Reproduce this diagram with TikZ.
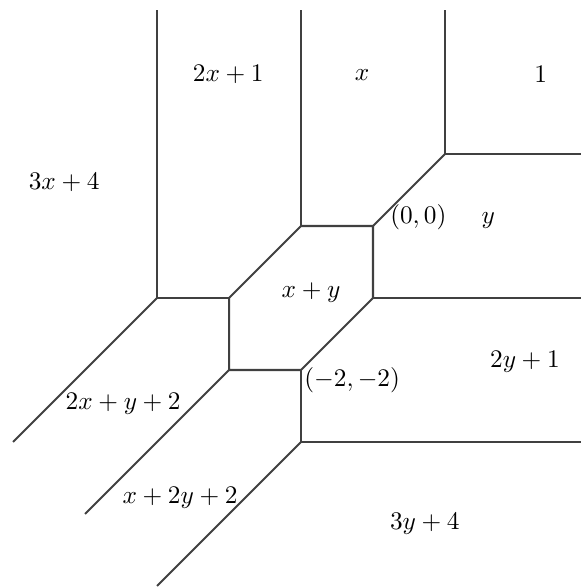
\documentclass[tikz,border=0pt]{standalone}
\usepackage{amsmath,amssymb}
\usepackage{tikz}

\begin{document}
\begin{tikzpicture}[edge/.style={black!75,line width=0.8pt}]
  \useasboundingbox (-5.181,-5.028) rectangle (2.889,3.139);

  % Vertices of the curve
  \coordinate (v00) at (0,0);
  \coordinate (v11) at (1,1);
  \coordinate (vm10) at (-1,0);
  \coordinate (v0m1) at (0,-1);
  \coordinate (vm2m1) at (-2,-1);
  \coordinate (vm2m2) at (-2,-2);
  \coordinate (vm1m2) at (-1,-2);
  \coordinate (vm3m1) at (-3,-1);
  \coordinate (vm1m3) at (-1,-3);

  % Ends of the unbounded rays
  \coordinate (t1) at (-3,3);
  \coordinate (t2) at (-1,3);
  \coordinate (t3) at (1,3);
  \coordinate (r1) at (2.889,1);
  \coordinate (r2) at (2.889,-1);
  \coordinate (r3) at (2.889,-3);
  \coordinate (d1) at (-5,-3);
  \coordinate (d2) at (-4,-4);
  \coordinate (d3) at (-3,-5);

  % Hexagon in the middle
  \draw[edge] (vm10) -- (v00) -- (v0m1) -- (vm1m2) -- (vm2m2)
    -- (vm2m1) -- cycle;

  % Bounded edges
  \draw[edge] (v00) -- (v11);
  \draw[edge] (vm2m1) -- (vm3m1);
  \draw[edge] (vm1m2) -- (vm1m3);

  % Rays going up
  \draw[edge] (vm3m1) -- (t1);
  \draw[edge] (vm10) -- (t2);
  \draw[edge] (v11) -- (t3);

  % Rays going right
  \draw[edge] (v11) -- (r1);
  \draw[edge] (v0m1) -- (r2);
  \draw[edge] (vm1m3) -- (r3);

  % Rays going down-left
  \draw[edge] (vm3m1) -- (d1);
  \draw[edge] (vm2m2) -- (d2);
  \draw[edge] (vm1m3) -- (d3);

  % Regions
  \node (m1) at (-4.29,0.6) {$3x+4$};
  \node (m2) at (-2.01,2.1) {$2x+1$};
  \node (m3) at (-0.15,2.1) {$x$};
  \node (m4) at (2.33,2.1) {$1$};
  \node (m5) at (1.6,0.08) {$y$};
  \node (m6) at (-0.86,-0.93) {$x+y$};
  \node (m7) at (2.11,-1.89) {$2y+1$};
  \node (m8) at (-3.47,-2.47) {$2x+y+2$};
  \node (m9) at (-2.68,-3.78) {$x+2y+2$};
  \node (m10) at (0.72,-4.14) {$3y+4$};

  % Points
  \node (p1) at (0.63,0.12) {$(0,0)$};
  \node (p2) at (-0.29,-2.14) {$(-2,-2)$};
\end{tikzpicture}
\end{document}
